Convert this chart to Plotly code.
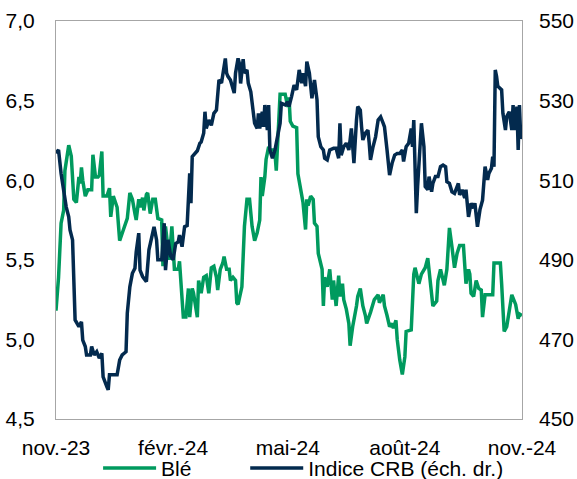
import plotly.graph_objects as go

# Blé (left axis)
ble_dates = [
    "2023-11-01","2023-11-03","2023-11-05","2023-11-07","2023-11-08","2023-11-11","2023-11-13","2023-11-15",
    "2023-11-17","2023-11-19","2023-11-20","2023-11-21","2023-11-22","2023-11-24","2023-11-26","2023-11-29",
    "2023-11-30","2023-12-02","2023-12-04","2023-12-05","2023-12-07","2023-12-08","2023-12-11","2023-12-13",
    "2023-12-14","2023-12-16","2023-12-19","2023-12-21","2023-12-24","2023-12-27","2023-12-29","2023-12-31",
    "2024-01-02","2024-01-03","2024-01-05","2024-01-06","2024-01-08","2024-01-09","2024-01-11","2024-01-12",
    "2024-01-14","2024-01-16","2024-01-18","2024-01-20","2024-01-23","2024-01-24","2024-01-26","2024-01-29",
    "2024-01-31","2024-02-02","2024-02-05","2024-02-06","2024-02-09","2024-02-11","2024-02-13","2024-02-14",
    "2024-02-16","2024-02-17","2024-02-20","2024-02-21","2024-02-23","2024-02-25","2024-02-27","2024-02-29",
    "2024-03-02","2024-03-04","2024-03-06","2024-03-07","2024-03-09","2024-03-11","2024-03-12","2024-03-14",
    "2024-03-16","2024-03-17","2024-03-19","2024-03-21","2024-03-22","2024-03-23","2024-03-26","2024-03-28",
    "2024-03-30","2024-04-01","2024-04-03","2024-04-05","2024-04-07","2024-04-09","2024-04-10","2024-04-11",
    "2024-04-13","2024-04-14","2024-04-16","2024-04-17","2024-04-20","2024-04-21","2024-04-22","2024-04-24",
    "2024-04-25","2024-04-29","2024-05-01","2024-05-02","2024-05-03","2024-05-05","2024-05-08","2024-05-09",
    "2024-05-12","2024-05-13","2024-05-15","2024-05-16","2024-05-17","2024-05-19","2024-05-21","2024-05-22",
    "2024-05-24","2024-05-25","2024-05-28","2024-05-29","2024-05-30","2024-06-01","2024-06-03","2024-06-05",
    "2024-06-06","2024-06-08","2024-06-10","2024-06-11","2024-06-13","2024-06-14","2024-06-16","2024-06-18",
    "2024-06-19","2024-06-21","2024-06-24","2024-06-25","2024-06-27","2024-06-29","2024-07-01","2024-07-02",
    "2024-07-05","2024-07-07","2024-07-08","2024-07-11","2024-07-12","2024-07-15","2024-07-16","2024-07-18",
    "2024-07-20","2024-07-22","2024-07-23","2024-07-25","2024-07-26","2024-07-28","2024-07-30","2024-08-01",
    "2024-08-02","2024-08-06","2024-08-08","2024-08-09","2024-08-12","2024-08-14","2024-08-17","2024-08-19",
    "2024-08-21","2024-08-22","2024-08-23","2024-08-26","2024-08-27","2024-08-29","2024-08-31","2024-09-01",
    "2024-09-03","2024-09-05","2024-09-07","2024-09-09","2024-09-11","2024-09-13","2024-09-16","2024-09-18",
    "2024-09-20","2024-09-21","2024-09-22","2024-09-24","2024-09-26","2024-09-28","2024-09-30","2024-10-01",
    "2024-10-03","2024-10-07","2024-10-09","2024-10-10","2024-10-15","2024-10-16","2024-10-18","2024-10-20",
    "2024-10-23","2024-10-24","2024-10-27","2024-10-29","2024-10-30","2024-11-01",
]
ble_values = [
    5.18,5.39,5.73,5.81,6.06,6.22,6.15,5.88,
    5.86,6.02,5.98,6.08,6.00,5.90,5.94,5.94,
    6.16,6.02,6.02,6.03,6.18,5.90,5.90,5.95,
    5.77,5.90,5.83,5.62,5.69,5.76,5.92,5.88,
    5.79,5.75,5.88,5.83,5.89,5.81,5.91,5.92,
    5.79,5.88,5.88,5.76,5.75,5.46,5.71,5.50,
    5.71,5.44,5.44,5.49,5.14,5.14,5.32,5.14,
    5.32,5.29,5.14,5.37,5.29,5.39,5.40,5.29,
    5.45,5.46,5.39,5.31,5.44,5.48,5.52,5.44,
    5.44,5.37,5.39,5.37,5.23,5.22,5.33,5.71,
    5.88,5.88,5.71,5.62,5.67,5.75,6.02,5.90,
    6.02,6.13,6.21,6.19,6.19,6.17,6.06,6.32,
    6.54,6.54,6.46,6.52,6.37,6.34,6.33,6.04,
    5.92,5.86,5.69,5.88,5.84,5.90,5.88,5.73,
    5.71,5.54,5.44,5.21,5.39,5.33,5.44,5.25,
    5.37,5.21,5.40,5.27,5.35,5.25,5.19,5.10,
    4.96,5.08,5.21,5.27,5.32,5.21,5.15,5.10,
    5.17,5.22,5.25,5.28,5.23,5.28,5.21,5.15,
    5.08,5.10,5.07,5.12,5.00,4.87,4.78,4.89,
    5.05,5.06,5.41,5.45,5.35,5.41,5.45,5.51,
    5.33,5.30,5.21,5.24,5.37,5.44,5.37,5.34,
    5.44,5.70,5.58,5.45,5.54,5.59,5.59,5.35,
    5.44,5.41,5.29,5.27,5.37,5.32,5.31,5.14,
    5.28,5.28,5.28,5.48,5.48,5.35,5.05,5.08,
    5.22,5.28,5.22,5.13,5.16,5.15,
]

# Indice CRB (right axis)
crb_dates = [
    "2023-11-01","2023-11-03","2023-11-05","2023-11-08","2023-11-09","2023-11-11","2023-11-12","2023-11-14",
    "2023-11-15","2023-11-16","2023-11-19","2023-11-21","2023-11-22","2023-11-24","2023-11-25","2023-11-28",
    "2023-11-29","2023-12-01","2023-12-03","2023-12-05","2023-12-07","2023-12-08","2023-12-11","2023-12-12",
    "2023-12-13","2023-12-16","2023-12-19","2023-12-21","2023-12-23","2023-12-26","2023-12-27","2023-12-29",
    "2023-12-31","2024-01-02","2024-01-03","2024-01-05","2024-01-06","2024-01-08","2024-01-11","2024-01-13",
    "2024-01-15","2024-01-17","2024-01-19","2024-01-20","2024-01-23","2024-01-25","2024-01-26","2024-01-28",
    "2024-01-30","2024-02-01","2024-02-03","2024-02-05","2024-02-06","2024-02-08","2024-02-10","2024-02-12",
    "2024-02-14","2024-02-15","2024-02-16","2024-02-18","2024-02-20","2024-02-22","2024-02-23","2024-02-25",
    "2024-02-26","2024-02-27","2024-02-29","2024-03-02","2024-03-04","2024-03-06","2024-03-08","2024-03-10",
    "2024-03-11","2024-03-13","2024-03-14","2024-03-15","2024-03-17","2024-03-19","2024-03-20","2024-03-21",
    "2024-03-23","2024-03-24","2024-03-25","2024-03-27","2024-03-28","2024-03-30","2024-03-31","2024-04-02",
    "2024-04-04","2024-04-05","2024-04-07","2024-04-08","2024-04-09","2024-04-11","2024-04-12","2024-04-13",
    "2024-04-15","2024-04-16","2024-04-17","2024-04-19","2024-04-21","2024-04-23","2024-04-25","2024-04-26",
    "2024-04-29","2024-05-01","2024-05-02","2024-05-04","2024-05-06","2024-05-08","2024-05-10","2024-05-12",
    "2024-05-13","2024-05-15","2024-05-16","2024-05-18","2024-05-19","2024-05-20","2024-05-22","2024-05-24",
    "2024-05-25","2024-05-27","2024-05-29","2024-05-30","2024-06-01","2024-06-03","2024-06-06","2024-06-08",
    "2024-06-10","2024-06-11","2024-06-12","2024-06-14","2024-06-16","2024-06-18","2024-06-19","2024-06-20",
    "2024-06-22","2024-06-23","2024-06-24","2024-06-25","2024-06-27","2024-06-28","2024-06-29","2024-07-01",
    "2024-07-03","2024-07-04","2024-07-05","2024-07-07","2024-07-09","2024-07-11","2024-07-13","2024-07-15",
    "2024-07-16","2024-07-18","2024-07-20","2024-07-22","2024-07-24","2024-07-26","2024-07-28","2024-07-30",
    "2024-07-31","2024-08-02","2024-08-04","2024-08-06","2024-08-07","2024-08-08","2024-08-10","2024-08-11",
    "2024-08-13","2024-08-14","2024-08-16","2024-08-17","2024-08-19","2024-08-20","2024-08-22","2024-08-23",
    "2024-08-25","2024-08-27","2024-08-29","2024-08-31","2024-09-02","2024-09-03","2024-09-05","2024-09-07",
    "2024-09-09","2024-09-12","2024-09-13","2024-09-15","2024-09-17","2024-09-18","2024-09-20","2024-09-22",
    "2024-09-24","2024-09-25","2024-09-27","2024-09-29","2024-10-01","2024-10-03","2024-10-05","2024-10-06",
    "2024-10-08","2024-10-09","2024-10-10","2024-10-11","2024-10-12","2024-10-13","2024-10-16","2024-10-17",
    "2024-10-19","2024-10-20","2024-10-22","2024-10-24","2024-10-25","2024-10-26","2024-10-28","2024-10-29",
    "2024-10-30","2024-10-31","2024-11-01",
]
crb_values = [
    516.8,517.6,511.7,505.0,503.3,500.8,497.5,495.0,
    483.2,474.9,473.2,474.4,469.8,468.2,466.1,466.1,
    468.2,466.1,466.9,465.3,466.5,460.6,458.1,457.3,
    461.1,461.1,461.1,464.8,466.1,466.9,476.6,483.2,
    486.6,487.9,492.0,496.7,487.4,485.8,484.5,492.5,
    495.4,498.3,495.0,490.0,490.0,499.2,487.4,495.0,
    491.0,490.0,494.1,494.5,496.2,493.3,498.3,498.6,
    511.7,504.2,515.9,516.7,517.4,519.3,519.6,521.8,
    527.2,523.0,525.1,523.8,526.8,527.6,535.2,534.4,
    536.9,540.6,536.9,536.1,535.2,532.7,531.9,536.9,
    540.6,539.4,534.3,540.4,536.9,537.7,534.4,532.2,
    526.0,524.3,523.0,526.8,523.0,527.2,523.4,528.9,
    522.6,528.9,517.6,515.5,517.6,520.9,524.3,529.3,
    528.9,529.7,528.5,531.0,533.9,532.7,537.7,534.4,
    536.9,533.6,539.8,536.9,533.2,530.6,535.2,530.2,
    520.9,518.4,517.6,515.5,515.1,517.6,518.0,518.0,
    515.5,524.3,516.3,518.4,519.3,517.6,520.1,523.0,
    514.3,521.8,525.1,528.5,527.6,523.4,520.1,521.8,
    522.6,519.3,515.1,518.4,520.9,525.1,525.9,524.3,
    523.4,517.6,511.3,514.3,516.3,516.7,516.7,517.6,
    514.7,518.4,519.3,523.0,518.4,525.1,501.7,508.4,
    517.6,524.3,518.4,508.4,507.6,510.9,507.1,509.2,
    510.9,510.9,513.4,513.8,513.4,509.6,509.2,507.1,
    506.7,509.2,506.3,507.6,505.5,507.6,500.8,504.2,
    503.0,504.2,498.3,502.6,505.0,513.4,510.1,511.7,
    513.0,515.9,513.4,537.7,536.1,533.6,532.7,526.8,
    522.6,526.0,527.2,522.6,528.9,522.6,528.5,517.6,
    528.9,520.5,521.0,
]

tick_vals = ["2023-11-01", "2024-02-01", "2024-05-01", "2024-08-01", "2024-11-01"]
tick_text = ["nov.-23", "févr.-24", "mai-24", "août-24", "nov.-24"]

GREEN = "#009A5E"
NAVY = "#032A4E"
FONT = "Liberation Sans, Arial, sans-serif"

fig = go.Figure()
fig.add_trace(go.Scatter(x=ble_dates, y=ble_values, name="Blé", mode="lines",
                         line=dict(color=GREEN, width=3.5), yaxis="y", legend="legend"))
fig.add_trace(go.Scatter(x=crb_dates, y=crb_values, name="Indice CRB (éch. dr.)", mode="lines",
                         line=dict(color=NAVY, width=3.5), yaxis="y2", legend="legend2"))

legend_common = dict(orientation="h", xref="container", xanchor="left",
                     yref="container", y=0.022, yanchor="middle",
                     font=dict(size=21), itemwidth=53, bgcolor="rgba(0,0,0,0)")

fig.update_layout(
    width=577, height=479,
    margin=dict(l=56, r=55, t=21, b=60, autoexpand=False),
    paper_bgcolor="white", plot_bgcolor="white",
    separators=", ",
    font=dict(family=FONT, size=21, color="#000000"),
    showlegend=True,
    legend=dict(x=0.17, **legend_common),
    legend2=dict(x=0.425, **legend_common),
    xaxis=dict(type="date", range=["2023-11-01", "2024-11-01"], tickvals=tick_vals, ticktext=tick_text,
               showgrid=False, zeroline=False, showline=True, mirror=True, linecolor="#A6A6A6",
               linewidth=1, ticks="", ticklabelstandoff=10),
    yaxis=dict(range=[4.5, 7.0], dtick=0.5, tick0=4.5, tickformat=".1f", showgrid=False, zeroline=False,
               showline=True, mirror=True, linecolor="#A6A6A6", linewidth=1, ticks="",
               ticklabelstandoff=16),
    yaxis2=dict(range=[450, 550], dtick=20, tick0=450, overlaying="y", side="right", showgrid=False,
                zeroline=False, showline=False, ticks="", ticklabelstandoff=16),
)

fig.write_html("out.html")
